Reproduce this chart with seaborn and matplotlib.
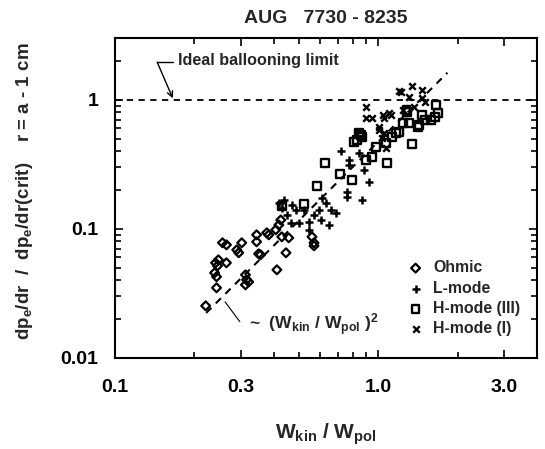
import numpy as np
import pandas as pd
import matplotlib
matplotlib.use("Agg")
import matplotlib.pyplot as plt
import matplotlib.ticker as mticker
import seaborn as sns

# ---------------- data ----------------
ohmic_x = [0.221, 0.243, 0.239, 0.243, 0.241, 0.247, 0.265, 0.256, 0.265, 0.290,
           0.295, 0.303, 0.313, 0.316, 0.313, 0.322, 0.345, 0.345, 0.357, 0.384,
           0.412, 0.446, 0.408, 0.419, 0.426, 0.430, 0.457, 0.560, 0.570, 0.570,
           0.377, 0.351, 0.245]
ohmic_y = [0.0253, 0.0349, 0.0456, 0.0425, 0.0545, 0.0575, 0.0545, 0.0779, 0.0751, 0.0687,
           0.0652, 0.0779, 0.0440, 0.0403, 0.0368, 0.0388, 0.0898, 0.0793, 0.0629, 0.0898,
           0.0481, 0.0652, 0.0983, 0.107, 0.117, 0.0867, 0.0851, 0.0867, 0.0779, 0.0738,
           0.0931, 0.0640, 0.0516]

lmode_x = [0.419, 0.430, 0.470, 0.486, 0.449, 0.466, 0.499, 0.545, 0.545, 0.611,
           0.634, 0.595, 0.662, 0.606, 0.650, 0.692, 0.762, 0.762, 0.869, 0.775,
           0.722, 0.775, 0.846, 0.885, 0.924, 0.438, 0.522, 0.570]
lmode_y = [0.159, 0.146, 0.153, 0.140, 0.128, 0.111, 0.111, 0.113, 0.0983, 0.174,
           0.159, 0.140, 0.140, 0.117, 0.107, 0.133, 0.194, 0.177, 0.168, 0.313,
           0.402, 0.343, 0.388, 0.287, 0.231, 0.168, 0.140, 0.128]

hmode3_x = [0.430, 0.522, 0.585, 0.628, 0.716, 0.796, 0.810, 0.846, 0.869, 0.900,
            0.948, 0.983, 1.08, 1.13, 1.20, 1.28, 1.31, 1.34, 1.41, 1.47,
            1.66, 1.69, 1.64, 1.58, 1.50, 1.43, 1.29, 1.24, 1.17, 1.07,
            0.862, 0.832]
hmode3_y = [0.151, 0.156, 0.216, 0.325, 0.267, 0.240, 0.472, 0.555, 0.517, 0.343,
            0.361, 0.432, 0.325, 0.517, 0.565, 0.837, 0.663, 0.456, 0.618, 0.765,
            0.914, 0.793, 0.738, 0.700, 0.700, 0.640, 0.807, 0.663, 0.555, 0.464,
            0.535, 0.490]

hmode1_x = [0.900, 0.900, 1.04, 1.10, 1.01, 1.05, 1.07, 1.20, 1.22, 1.34,
            1.46, 1.31, 1.46, 1.50, 1.37, 1.24, 1.12, 1.05, 1.03, 1.01, 0.948]
hmode1_y = [0.883, 0.725, 0.765, 0.793, 0.618, 0.555, 0.425, 1.17, 1.15, 1.28,
            1.20, 1.05, 1.04, 0.965, 0.883, 0.837, 0.765, 0.725, 0.508, 0.585, 0.725]

fit_x = [0.222, 1.83]
fit_y = [0.0223, 1.62]
limit_y = 1.0

x_ticks = [0.1, 0.3, 1.0, 3.0]
x_tick_labels = ["0.1", "0.3", "1.0", "3.0"]
y_ticks = [0.01, 0.1, 1.0]
y_tick_labels = ["0.01", "0.1", "1"]

# ---------------- style ----------------
sns.set_style("ticks")
plt.rcParams["font.family"] = ["Liberation Sans", "DejaVu Sans"]
plt.rcParams["font.weight"] = "bold"
plt.rcParams["mathtext.fontset"] = "custom"
plt.rcParams["mathtext.rm"] = "Liberation Sans:bold"
plt.rcParams["mathtext.it"] = "Liberation Sans:bold"
plt.rcParams["mathtext.bf"] = "Liberation Sans:bold"

fig = plt.figure(figsize=(5.45, 4.49), dpi=100)
ax = fig.add_axes([0.211, 0.203, 0.774, 0.712])

groups = [
    ("Ohmic", ohmic_x, ohmic_y, "D", 20, dict(facecolor="none", edgecolor="black", linewidth=1.6)),
    ("L-mode", lmode_x, lmode_y, "+", 30, dict(color="black", linewidth=1.8)),
    ("H-mode (III)", hmode3_x, hmode3_y, "s", 32, dict(facecolor="none", edgecolor="black", linewidth=1.7)),
    ("H-mode (I)", hmode1_x, hmode1_y, "x", 22, dict(color="black", linewidth=1.7)),
]
for name, xs, ys, mk, sz, kw in groups:
    df = pd.DataFrame({"x": xs, "y": ys})
    sns.scatterplot(data=df, x="x", y="y", marker=mk, s=sz, ax=ax, label=name, **kw)

sns.lineplot(x=fit_x, y=fit_y, ax=ax, color="black", linewidth=1.5, dashes=False)
ax.lines[-1].set_dashes([3.5, 3])
ax.axhline(limit_y, color="black", linewidth=1.3, dashes=(3.5, 3))

ax.set_xscale("log")
ax.set_yscale("log")
ax.set_xlim(0.1, 4.0)
ax.set_ylim(0.01, 3.0)

ax.xaxis.set_major_locator(mticker.FixedLocator(x_ticks))
ax.xaxis.set_major_formatter(mticker.FixedFormatter(x_tick_labels))
ax.xaxis.set_minor_locator(mticker.LogLocator(base=10, subs=np.arange(2, 10)))
ax.xaxis.set_minor_formatter(mticker.NullFormatter())
ax.yaxis.set_major_locator(mticker.FixedLocator(y_ticks))
ax.yaxis.set_major_formatter(mticker.FixedFormatter(y_tick_labels))
ax.yaxis.set_minor_locator(mticker.LogLocator(base=10, subs=np.arange(2, 10)))
ax.yaxis.set_minor_formatter(mticker.NullFormatter())

ax.tick_params(which="both", direction="in", top=True, right=True, width=1.2, colors="black")
ax.tick_params(which="major", length=6)
ax.tick_params(which="minor", length=4)
ax.tick_params(axis="x", which="major", pad=15, labelsize=14)
ax.tick_params(axis="y", which="major", pad=12, labelsize=14)
for sp in ax.spines.values():
    sp.set_linewidth(1.5)
    sp.set_color("black")

ax.set_title("AUG   7730 - 8235", fontsize=14, fontweight="bold", pad=11)
ax.set_xlabel(r"W$_\mathrm{kin}$ / W$_\mathrm{pol}$", fontsize=15, fontweight="bold")
ax.xaxis.set_label_coords(0.5, -0.2)
ax.set_ylabel(r"dp$_\mathrm{e}$/dr  /  dp$_\mathrm{e}$/dr(crit)    r = a - 1 cm",
              fontsize=13.5, fontweight="bold")
ax.yaxis.set_label_coords(-0.19, 0.52)

# annotations
ax.text(0.149, 0.931, "Ideal ballooning limit", transform=ax.transAxes,
        fontsize=11.6, fontweight="bold", va="center", ha="left")
ax.plot([0.137, 0.1], [0.925, 0.925], transform=ax.transAxes, color="black", lw=1.0)
ax.annotate("", xy=(0.137, 0.812), xycoords="axes fraction",
            xytext=(0.1, 0.925), textcoords="axes fraction",
            arrowprops=dict(arrowstyle="->", color="black", lw=1.0, shrinkA=0, shrinkB=0))
ax.plot([0.261, 0.296], [0.175, 0.113], transform=ax.transAxes, color="black", lw=0.8)
ax.text(0.318, 0.105, r"~  (W$_\mathrm{kin}$ / W$_\mathrm{pol}$ )$^\mathrm{2}$",
        transform=ax.transAxes, fontsize=12.6, fontweight="bold", va="center", ha="left")

leg = ax.legend(loc="upper left", bbox_to_anchor=(0.675, 0.325), frameon=False,
                fontsize=11.4, handletextpad=0.5, labelspacing=0.34, handlelength=1.2,
                borderaxespad=0, markerscale=1.0)

fig.savefig("out.png", dpi=100)
